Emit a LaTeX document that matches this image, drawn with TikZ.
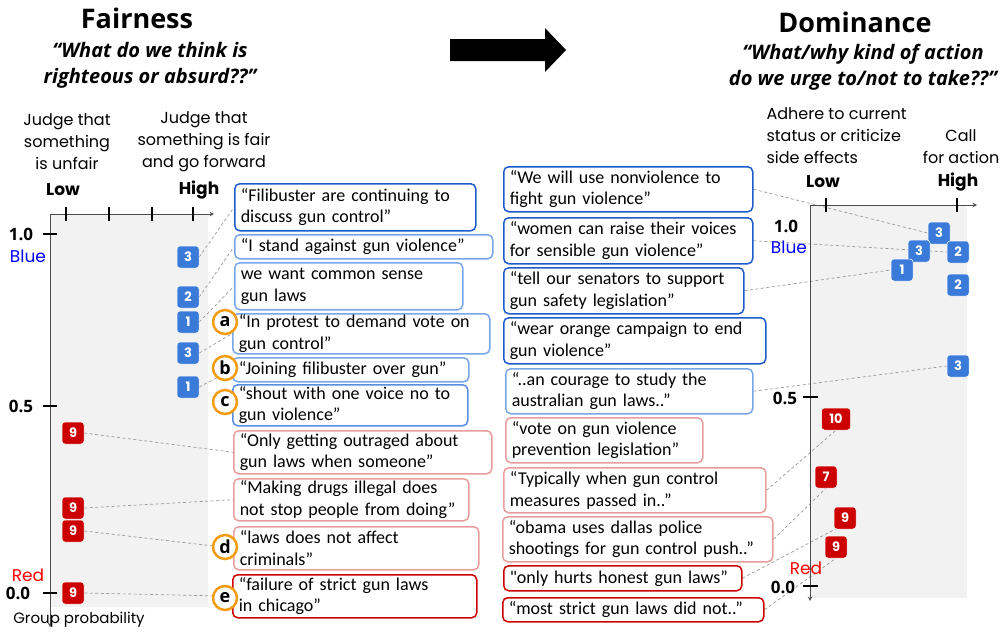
\documentclass[tikz,border=0pt]{standalone}
\usepackage{fontspec}
\usepackage{xcolor}
\usepackage{tikz}
\usetikzlibrary{arrows}
\usetikzlibrary{shapes}
\usetikzlibrary{backgrounds}
\setmainfont{Carlito}
\newfontfamily\titlefont{Open Sans}
\newfontfamily\geofont{Poppins}
\definecolor{darkblue}{RGB}{30,92,204}
\definecolor{midblue}{RGB}{90,142,228}
\definecolor{lightblue}{RGB}{120,166,234}
\definecolor{badgeblue}{RGB}{58,122,216}
\definecolor{badgered}{RGB}{204,0,0}
\definecolor{pinkred}{RGB}{232,156,156}
\definecolor{darkred}{RGB}{204,0,0}
\definecolor{orng}{RGB}{243,156,18}
\definecolor{panel}{RGB}{242,242,242}

\begin{document}
\begin{tikzpicture}[x=1pt, y=-1pt, >=stealth,
    quote/.style={draw, rounded corners=5pt, anchor=north west, align=left,
        inner xsep=6pt, inner ysep=0pt, line width=1.5pt,
        font=\fontsize{18}{21.5}\selectfont},
    badge/.style={fill=#1, draw=white, line width=0.5pt, rounded corners=3pt,
        minimum size=22pt, inner sep=0pt, text=white,
        font=\geofont\bfseries\fontsize{13}{13}\selectfont},
    tag/.style={circle, draw=orng, line width=2.5pt, fill=white,
        minimum size=24pt, inner sep=0pt,
        font=\titlefont\bfseries\fontsize{18}{18}\selectfont},
    link/.style={draw=black!40, line width=0.7pt, dash pattern=on 3pt off 2.5pt},
    axis/.style={draw=black!70, line width=1pt},
    tick/.style={draw=black, line width=2.5pt},
    ticklabel/.style={font=\titlefont\bfseries\fontsize{17}{17}\selectfont},
    endlabel/.style={font=\geofont\bfseries\fontsize{17}{17}\selectfont},
    axistext/.style={align=center, font=\geofont\fontsize{16}{22}\selectfont}]
\useasboundingbox (0,0) rectangle (1005,632);

\node (ftitle) at (137,18) {\titlefont\bfseries\fontsize{27}{27}\selectfont Fairness};
\node[align=center, font=\titlefont\bfseries\itshape\fontsize{20}{26}\selectfont] (fsub) at (150,65)
    {“What do we think is\\ righteous or absurd??”};
\node (dtitle) at (855,22) {\titlefont\bfseries\fontsize{27}{27}\selectfont Dominance};
\node[align=center, font=\titlefont\bfseries\itshape\fontsize{20}{26}\selectfont] (dsub) at (863,67)
    {“What/why kind of action\\ do we urge to/not to take??”};

\fill (450,39) -- (545,39) -- (545,28) -- (566,50) -- (545,72) -- (545,61) -- (450,61) -- cycle;

\node[axistext] (flow) at (67,142) {Judge that\\ something\\ is unfair};
\node[axistext] (fhigh) at (204,142) {Judge that\\ something is fair\\ and go forward};
\node[endlabel] (flowl) at (63,190) {Low};
\node[endlabel] (fhighl) at (199,190) {High};
\node[axistext, align=left, anchor=west] (dlow) at (763,136) {Adhere to current\\ status or criticize\\ side effects};
\node[axistext] (dhigh) at (961,147) {Call\\ for action};
\node[endlabel] (dlowl) at (823,182) {Low};
\node[endlabel] (dhighl) at (958,182) {High};

\draw[axis, <->] (50,627) -- (50,214) -- (214,214);
\foreach \tx in {66,109,152,193}
    \draw[tick] (\tx,207) -- (\tx,221);
\foreach \ty in {234,406,593}
    \draw[tick] (43,\ty) -- (57,\ty);
\node[ticklabel] (f10) at (21,234) {1.0};
\node[ticklabel] (f05) at (21,406) {0.5};
\node[ticklabel] (f00) at (18,593) {0.0};
\node[font=\geofont\fontsize{17}{17}\selectfont, text=blue] (fblue) at (28,256) {Blue};
\node[font=\geofont\fontsize{17}{17}\selectfont, text=red] (fred) at (28,575) {Red};
\node[font=\geofont\fontsize{15}{15}\selectfont] (fgroup) at (79,620) {Group probability};

\draw[axis, <->] (810,601) -- (810,205) -- (977,205);
\foreach \tx in {826,957}
    \draw[tick] (\tx,198) -- (\tx,212);
\foreach \ty in {397,586}
    \draw[tick] (803,\ty) -- (818,\ty);
\node[ticklabel] (d10) at (786,226) {1.0};
\node[ticklabel] (d05) at (785,398) {0.5};
\node[ticklabel] (d00) at (783,587) {0.0};
\node[font=\geofont\fontsize{17}{17}\selectfont, text=blue] (dblue) at (789,247) {Blue};
\node[font=\geofont\fontsize{17}{17}\selectfont, text=red] (dred) at (806,568) {Red};

\node[quote, draw=darkblue, text width=229pt, minimum height=47pt] (fq1) at (234,183)
    {“Filibuster are continuing to\\discuss gun control”};
\node[quote, draw=lightblue, text width=246pt, minimum height=24pt] (fq2) at (234,234)
    {“I stand against gun violence”};
\node[quote, draw=lightblue, text width=216pt, minimum height=47pt] (fq3) at (234,262)
    {we want common sense\\gun laws};
\node[quote, draw=lightblue, text width=245pt, minimum height=40pt] (fq4) at (232,313)
    {“In protest to demand vote on\\gun control”};
\node[quote, draw=lightblue, text width=224pt, minimum height=24pt] (fq5) at (232,357)
    {“Joining filibuster over gun”};
\node[quote, draw=midblue, text width=223pt, minimum height=41pt] (fq6) at (232,384)
    {“shout with one voice no to\\gun violence”};
\node[quote, draw=pinkred, text width=246pt, minimum height=43pt] (fq7) at (233,430)
    {“Only getting outraged about\\gun laws when someone”};
\node[quote, draw=pinkred, text width=223pt, minimum height=42pt] (fq8) at (233,478)
    {“Making drugs illegal does\\not stop people from doing”};
\node[quote, draw=pinkred, text width=233pt, minimum height=43pt] (fq9) at (233,526)
    {“laws does not affect\\criminals”};
\node[quote, draw=darkred, text width=232pt, minimum height=43pt] (fq10) at (232,574)
    {“failure of strict gun laws\\in chicago”};

\node[quote, draw=darkblue, text width=237pt, minimum height=45pt] (dq1) at (503,166)
    {“We will use nonviolence to\\fight gun violence”};
\node[quote, draw=darkblue, text width=237pt, minimum height=46pt] (dq2) at (503,217)
    {“women can raise their voices\\for sensible gun violence”};
\node[quote, draw=darkblue, text width=228pt, minimum height=46pt] (dq3) at (503,267)
    {“tell our senators to support\\gun safety legislation”};
\node[quote, draw=darkblue, text width=250pt, minimum height=46pt] (dq4) at (503,317)
    {“wear orange campaign to end\\gun violence”};
\node[quote, draw=lightblue, text width=235pt, minimum height=45pt] (dq5) at (505,368)
    {“..an courage to study the\\australian gun laws..”};
\node[quote, draw=pinkred, text width=185pt, minimum height=45pt] (dq6) at (505,417)
    {“vote on gun violence\\prevention legislation”};
\node[quote, draw=pinkred, text width=250pt, minimum height=45pt] (dq7) at (503,467)
    {“Typically when gun control\\measures passed in..”};
\node[quote, draw=pinkred, text width=258pt, minimum height=45pt] (dq8) at (502,516)
    {“obama uses dallas police\\shootings for gun control push..”};
\node[quote, draw=darkred, text width=226pt, minimum height=25pt] (dq9) at (503,565)
    {\XeTeXglyph\the\XeTeXcharglyph"22\relax only hurts honest gun laws”};
\node[quote, draw=darkred, text width=249pt, minimum height=24pt] (dq10) at (502,597)
    {“most strict gun laws did not..”};

\node[badge=badgeblue] (fb1) at (188,257) {3};
\node[badge=badgeblue] (fb2) at (188,297) {2};
\node[badge=badgeblue] (fb3) at (188,322) {1};
\node[badge=badgeblue] (fb4) at (188,353) {3};
\node[badge=badgeblue] (fb5) at (188,387) {1};
\node[badge=badgered] (fr1) at (73,433) {9};
\node[badge=badgered] (fr2) at (73,508) {9};
\node[badge=badgered] (fr3) at (73,531) {9};
\node[badge=badgered] (fr4) at (73,593) {9};

\node[badge=badgeblue] (db1) at (939,233) {3};
\node[badge=badgeblue] (db2) at (919,251) {3};
\node[badge=badgeblue] (db3) at (958,252) {2};
\node[badge=badgeblue] (db4) at (902,270) {1};
\node[badge=badgeblue] (db5) at (958,285) {2};
\node[badge=badgeblue] (db6) at (958,366) {3};
\node[badge=badgered, minimum width=29pt] (dr1) at (836,419) {10};
\node[badge=badgered] (dr2) at (826,477) {7};
\node[badge=badgered] (dr3) at (845,518) {9};
\node[badge=badgered] (dr4) at (836,547) {9};

\node[tag] (ta) at (225,322) {a};
\node[tag] (tb) at (225,368) {b};
\node[tag] (tc) at (225,402) {c};
\node[tag] (td) at (225,547) {d};
\node[tag] (te) at (225,598) {e};

\begin{scope}[on background layer]
\fill[panel] (50,214) rectangle (208,607);
\fill[panel] (810,205) rectangle (967,598);
\draw[link] (fb1.east) -- (fq1.west);
\draw[link] (fb2.east) -- (fq2.west);
\draw[link] (fb3.east) -- (fq3.west);
\draw[link] (fb4.east) -- (fq4.west);
\draw[link] (fb5.east) -- (fq5.west);
\draw[link] (fr1.east) -- (fq7.west);
\draw[link] (fr2.east) -- (fq8.west);
\draw[link] (fr3.east) -- (fq9.west);
\draw[link] (fr4.east) -- (fq10.west);
\draw[link] (dq1.east) -- (db1.west);
\draw[link] (dq2.east) -- (db3.west);
\draw[link] (dq3.east) -- (db4.west);
\draw[link] (dq5.east) -- (db6.west);
\draw[link] (dq7.east) -- (dr1.south);
\draw[link] (dq8.east) -- (dr2.south);
\draw[link] (dq9.east) -- (dr3.east);
\draw[link] (dq10.east) -- (dr4.south);
\end{scope}
\end{tikzpicture}
\end{document}
